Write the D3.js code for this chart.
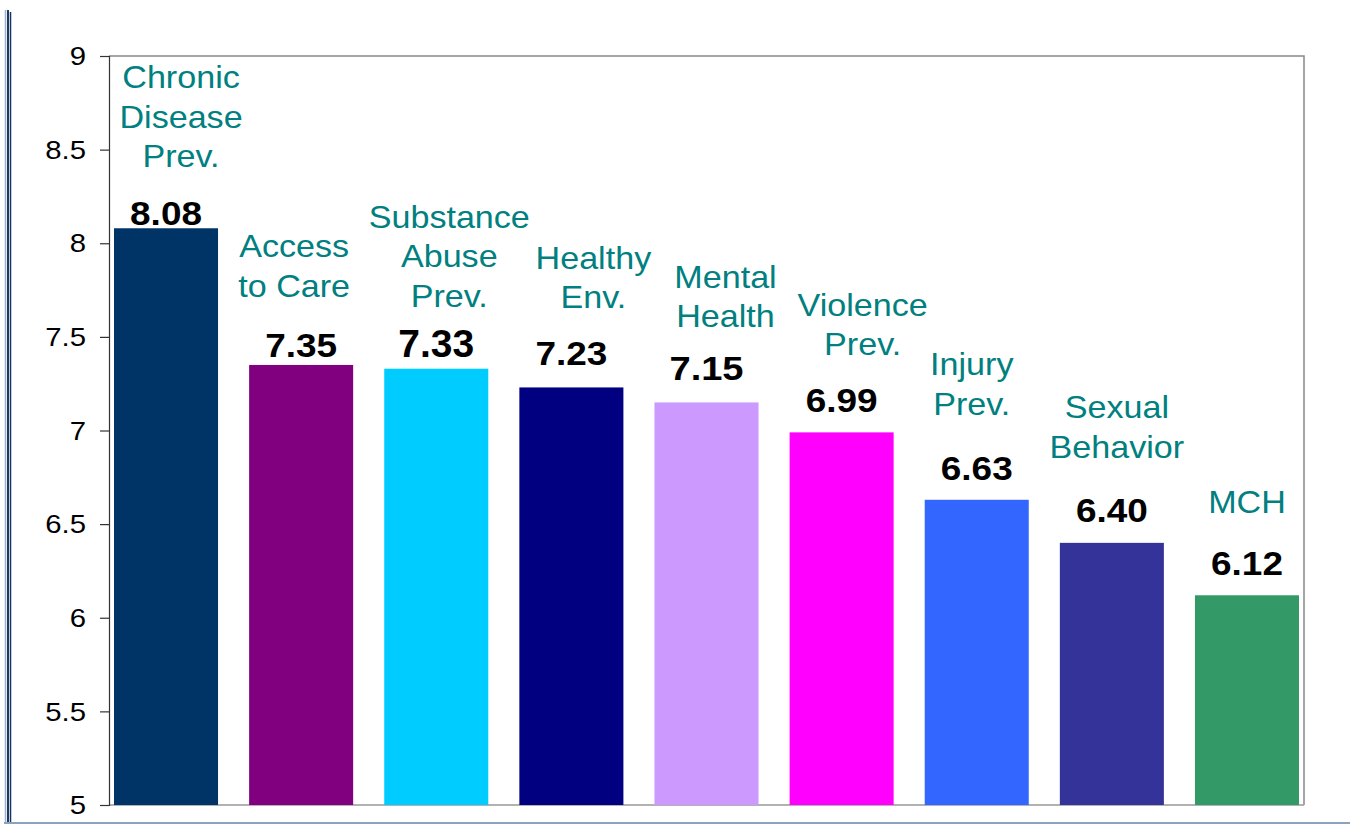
<!DOCTYPE html>
<html>
<head>
<meta charset="utf-8">
<script src="https://cdn.jsdelivr.net/npm/d3@7"></script>
<style>
  body { margin: 0; background: #fff; }
  svg { display: block; }
</style>
</head>
<body>
<svg id="chart" width="1356" height="825"></svg>
<script>
// chart values
var categories = [
  ["Chronic", "Disease", "Prev."],
  ["Access", "to Care"],
  ["Substance", "Abuse", "Prev."],
  ["Healthy", "Env."],
  ["Mental", "Health"],
  ["Violence", "Prev."],
  ["Injury", "Prev."],
  ["Sexual", "Behavior"],
  ["MCH"]
];
var scores = [8.08, 7.35, 7.33, 7.23, 7.15, 6.99, 6.63, 6.40, 6.12];
var barColors = ["#003366", "#800080", "#00ccff", "#000080", "#cc99ff",
                 "#ff00ff", "#3366ff", "#333399", "#339966"];
var yTicks = [5, 5.5, 6, 6.5, 7, 7.5, 8, 8.5, 9];

// hand placed labels in the original slide
var valueLift = [3, 8, 12, 22, 22, 20, 20, 21, 20];
var valueSize = [33, 33, 39, 33, 34, 33, 33, 33, 33];
var nameDx = [15, -7, 13, 22, 19, 21, -5, 5, 0];
var nameLift = [58, 60, 50, 57, 53, 57, 65, 64, 62];

var svg = d3.select("#chart");
var keys = categories.map(function(c) { return c.join(" "); });

var x = d3.scaleBand()
  .domain(keys)
  .range([114, 1299])
  .paddingInner(0.23)
  .paddingOuter(0);

var y = d3.scaleLinear()
  .domain([5, 9])
  .range([805, 56]);

// slide decoration
svg.append("line").attr("x1", 5.5).attr("x2", 5.5).attr("y1", 10).attr("y2", 823)
  .attr("stroke", "#9fb2ca").attr("stroke-width", 1.5);
svg.append("line").attr("x1", 8).attr("x2", 8).attr("y1", 10).attr("y2", 823)
  .attr("stroke", "#1d3a63").attr("stroke-width", 2);
svg.append("line").attr("x1", 10.5).attr("x2", 10.5).attr("y1", 12).attr("y2", 823)
  .attr("stroke", "#123264").attr("stroke-width", 1.5);
svg.append("line").attr("x1", 4).attr("x2", 1350).attr("y1", 823).attr("y2", 823)
  .attr("stroke", "#8ca2bf").attr("stroke-width", 2);

// frame top + right
svg.append("path")
  .attr("d", "M109,56H1304V805")
  .attr("fill", "none").attr("stroke", "#888").attr("stroke-width", 1.5);
svg.append("line").attr("x1", 109).attr("x2", 1304).attr("y1", 805).attr("y2", 805)
  .attr("stroke", "#999").attr("stroke-width", 1.5);

function stretched(sel, sx) {
  sel.attr("transform", function(d, i) {
    var t = d3.select(this);
    var s = typeof sx === "function" ? sx(d, i) : sx;
    return "translate(" + t.attr("data-x") + "," + t.attr("data-y") + ") scale(" + s + ",1)";
  });
}

// y axis
var yAxis = svg.append("g")
  .attr("transform", "translate(109,0)")
  .call(d3.axisLeft(y).tickValues(yTicks).tickSize(9).tickFormat(d3.format("")));
yAxis.select(".domain").attr("stroke", "#333").attr("stroke-width", 1.2);
yAxis.selectAll(".tick line").attr("stroke", "#333").attr("stroke-width", 1.2);
yAxis.selectAll(".tick text").remove();

svg.append("g").selectAll("text")
  .data(yTicks)
  .enter().append("text")
    .attr("data-x", 86)
    .attr("data-y", function(d) { return y(d); })
    .attr("dy", "0.36em")
    .attr("text-anchor", "end")
    .attr("font-family", "Liberation Sans, Arial, sans-serif")
    .attr("font-size", 25.5)
    .attr("fill", "#000")
    .text(function(d) { return d3.format("")(d); })
    .call(stretched, 1.15);

// bars
svg.append("g").selectAll("rect")
  .data(scores)
  .enter().append("rect")
    .attr("x", function(d, i) { return x(keys[i]); })
    .attr("y", function(d) { return y(d); })
    .attr("width", x.bandwidth())
    .attr("height", function(d) { return y(5) - y(d); })
    .attr("fill", function(d, i) { return barColors[i]; });

// value labels
svg.append("g").selectAll("text")
  .data(scores)
  .enter().append("text")
    .attr("data-x", function(d, i) { return x(keys[i]) + x.bandwidth() / 2; })
    .attr("data-y", function(d, i) { return y(d) - valueLift[i]; })
    .attr("text-anchor", "middle")
    .attr("font-family", "Liberation Sans, Arial, sans-serif")
    .attr("font-weight", "bold")
    .attr("font-size", function(d, i) { return valueSize[i]; })
    .attr("fill", "#000")
    .text(function(d) { return d.toFixed(2); })
    .call(stretched, function(d, i) { return valueSize[i] > 35 ? 1.0 : 1.12; });

// category labels
var names = svg.append("g").selectAll("text")
  .data(categories)
  .enter().append("text")
    .attr("data-x", function(d, i) { return x(keys[i]) + x.bandwidth() / 2 + nameDx[i]; })
    .attr("data-y", function(d, i) {
      return y(scores[i]) - valueLift[i] - nameLift[i] - (d.length - 1) * 39.5;
    })
    .attr("text-anchor", "middle")
    .attr("font-family", "Liberation Sans, Arial, sans-serif")
    .attr("font-size", 31)
    .attr("fill", "#008080")
    .call(stretched, 1.1);

names.selectAll("tspan")
  .data(function(d) { return d; })
  .enter().append("tspan")
    .attr("x", 0)
    .attr("dy", function(d, i) { return i === 0 ? 0 : 39.5; })
    .text(function(d) { return d; });
</script>
</body>
</html>
